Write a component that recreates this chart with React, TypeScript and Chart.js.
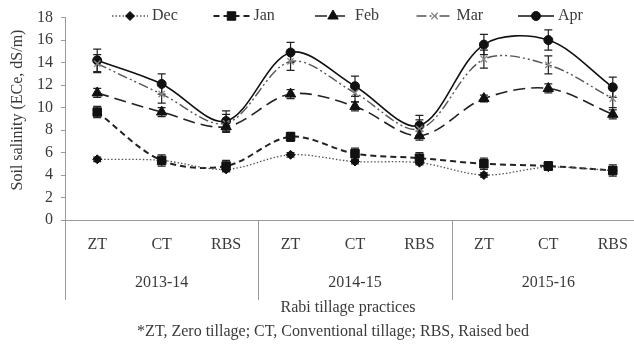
import React, { useEffect, useRef } from "react";
import { Chart, registerables } from "chart.js";
Chart.register(...registerables);

const categories = ["ZT", "CT", "RBS", "ZT", "CT", "RBS", "ZT", "CT", "RBS"];
const years = ["2013-14", "2014-15", "2015-16"];
const seriesNames = ["Dec", "Jan", "Feb", "Mar", "Apr"];

const dec = [5.4, 5.3, 4.5, 5.8, 5.2, 5.1, 4.0, 4.7, 4.4];
const jan = [9.6, 5.3, 4.8, 7.4, 5.9, 5.5, 5.0, 4.8, 4.4];
const feb = [11.3, 9.6, 8.3, 11.2, 10.1, 7.5, 10.8, 11.7, 9.4];
const mar = [13.9, 11.2, 8.6, 14.1, 11.3, 8.1, 14.3, 13.8, 10.8];
const apr = [14.2, 12.1, 8.8, 14.9, 11.9, 8.4, 15.6, 16.0, 11.8];

const decErr = [0.2, 0.2, 0.2, 0.2, 0.2, 0.2, 0.2, 0.2, 0.3];
const janErr = [0.5, 0.5, 0.5, 0.4, 0.5, 0.5, 0.5, 0.4, 0.5];
const febErr = [0.4, 0.4, 0.4, 0.4, 0.4, 0.4, 0.3, 0.4, 0.4];
const marErr = [0.8, 0.8, 0.8, 0.8, 0.8, 0.8, 0.8, 0.8, 0.8];
const aprErr = [1.0, 0.9, 0.9, 0.9, 0.9, 0.9, 0.9, 0.9, 0.9];

const yTitle = "Soil salinity (ECe, dS/m)";
const xTitle = "Rabi tillage practices";
const footnote = "*ZT, Zero tillage; CT, Conventional tillage; RBS, Raised bed";

const FONT = "'Liberation Serif', 'Times New Roman', serif";
const FSIZE = 16;
const TEXT = "#3a3a3a";
const AXIS = "#9a9a9a";

type Style = {
  color: string;
  width: number;
  dash: number[];
  point: string;
  radius: number;
  pointColor: string;
  pointBorder: number;
};

const styles: Style[] = [
  { color: "#555", width: 1.3, dash: [1.5, 2], point: "rectRot", radius: 4.5, pointColor: "#111", pointBorder: 1 },
  { color: "#222", width: 2, dash: [6, 4], point: "rect", radius: 6, pointColor: "#111", pointBorder: 1 },
  { color: "#222", width: 1.6, dash: [12, 6], point: "triangle", radius: 6, pointColor: "#111", pointBorder: 1 },
  { color: "#555", width: 1.4, dash: [10, 3, 2, 3, 2, 3], point: "crossRot", radius: 4.5, pointColor: "#888", pointBorder: 1.3 },
  { color: "#111", width: 1.6, dash: [], point: "circle", radius: 4.5, pointColor: "#111", pointBorder: 1 },
];

const values = [dec, jan, feb, mar, apr];
const errors = [decErr, janErr, febErr, marErr, aprErr];

function drawMarker(ctx: CanvasRenderingContext2D, s: Style, x: number, y: number) {
  const r = s.radius;
  ctx.save();
  ctx.fillStyle = s.pointColor;
  ctx.strokeStyle = s.pointColor;
  ctx.lineWidth = s.pointBorder;
  ctx.setLineDash([]);
  ctx.beginPath();
  if (s.point === "circle") {
    ctx.arc(x, y, r, 0, Math.PI * 2);
    ctx.fill();
    ctx.stroke();
  } else if (s.point === "rect") {
    const h = Math.SQRT1_2 * r;
    ctx.rect(x - h, y - h, 2 * h, 2 * h);
    ctx.fill();
    ctx.stroke();
  } else if (s.point === "rectRot") {
    ctx.moveTo(x - r, y);
    ctx.lineTo(x, y + r);
    ctx.lineTo(x + r, y);
    ctx.lineTo(x, y - r);
    ctx.closePath();
    ctx.fill();
    ctx.stroke();
  } else if (s.point === "triangle") {
    ctx.moveTo(x, y - r);
    ctx.lineTo(x + r * Math.sin(Math.PI / 3), y + r / 2);
    ctx.lineTo(x - r * Math.sin(Math.PI / 3), y + r / 2);
    ctx.closePath();
    ctx.fill();
    ctx.stroke();
  } else if (s.point === "crossRot") {
    const h = Math.SQRT1_2 * r;
    ctx.moveTo(x - h, y - h);
    ctx.lineTo(x + h, y + h);
    ctx.moveTo(x + h, y - h);
    ctx.lineTo(x - h, y + h);
    ctx.stroke();
  }
  ctx.restore();
}

export default function App() {
  const ref = useRef<HTMLCanvasElement>(null);

  useEffect(() => {
    const canvas = ref.current!;

    const errorBars = {
      id: "errorBars",
      beforeDatasetsDraw(chart: any) {
        const ctx = chart.ctx;
        const y = chart.scales.y;
        ctx.save();
        ctx.strokeStyle = "#222";
        ctx.lineWidth = 1.2;
        chart.data.datasets.forEach((ds: any, i: number) => {
          const meta = chart.getDatasetMeta(i);
          meta.data.forEach((pt: any, j: number) => {
            const v = ds.data[j];
            const e = errors[i][j];
            const x = pt.x;
            const y1 = y.getPixelForValue(v + e);
            const y2 = y.getPixelForValue(v - e);
            ctx.beginPath();
            ctx.moveTo(x, y1);
            ctx.lineTo(x, y2);
            ctx.moveTo(x - 4, y1);
            ctx.lineTo(x + 4, y1);
            ctx.moveTo(x - 4, y2);
            ctx.lineTo(x + 4, y2);
            ctx.stroke();
          });
        });
        ctx.restore();
      },
    };

    const decorations = {
      id: "decorations",
      afterDraw(chart: any) {
        const ctx = chart.ctx;
        const area = chart.chartArea;
        const xs = chart.scales.x;
        ctx.save();
        ctx.strokeStyle = AXIS;
        ctx.lineWidth = 1;
        const bounds = [area.left];
        for (let g = 1; g < years.length; g++) {
          bounds.push((xs.getPixelForValue(g * 3 - 1) + xs.getPixelForValue(g * 3)) / 2);
        }
        bounds.push(area.right);
        bounds.forEach((bx) => {
          const px = Math.round(bx) + 0.5;
          ctx.beginPath();
          ctx.moveTo(px, area.bottom);
          ctx.lineTo(px, area.bottom + 80);
          ctx.stroke();
        });
        ctx.fillStyle = TEXT;
        ctx.font = `${FSIZE}px ${FONT}`;
        ctx.textAlign = "center";
        ctx.textBaseline = "middle";
        years.forEach((yr, g) => {
          ctx.fillText(yr, xs.getPixelForValue(g * 3 + 1), area.bottom + 63);
        });
        ctx.fillText(xTitle, 348, area.bottom + 88);
        ctx.fillText(footnote, 333, area.bottom + 112);
        ctx.save();
        ctx.translate(18, 110);
        ctx.rotate(-Math.PI / 2);
        ctx.fillText(yTitle, 0, 0);
        ctx.restore();

        const legendY = 16;
        const startX = 112;
        const step = 101.5;
        const sampleLen = 36;
        seriesNames.forEach((name, i) => {
          const s = styles[i];
          const x0 = startX + i * step;
          ctx.save();
          ctx.strokeStyle = s.color;
          ctx.lineWidth = s.width;
          ctx.setLineDash(s.dash);
          ctx.beginPath();
          ctx.moveTo(x0, legendY);
          ctx.lineTo(x0 + sampleLen, legendY);
          ctx.stroke();
          ctx.restore();
          drawMarker(ctx, s, x0 + sampleLen / 2, legendY);
          ctx.fillStyle = TEXT;
          ctx.font = `${FSIZE}px ${FONT}`;
          ctx.textAlign = "left";
          ctx.textBaseline = "middle";
          ctx.fillText(name, x0 + sampleLen + 4, legendY);
        });
        ctx.restore();
      },
    };

    const font = { family: FONT, size: FSIZE };

    const chart = new Chart(canvas, {
      type: "line",
      data: {
        labels: categories,
        datasets: seriesNames.map((name, i) => ({
          label: name,
          data: values[i],
          borderColor: styles[i].color,
          borderWidth: styles[i].width,
          borderDash: styles[i].dash,
          pointStyle: styles[i].point as any,
          pointRadius: styles[i].radius,
          pointBackgroundColor: styles[i].pointColor,
          pointBorderColor: styles[i].pointColor,
          pointBorderWidth: styles[i].pointBorder,
          tension: 0.33,
          fill: false,
        })),
      },
      options: {
        responsive: false,
        animation: false,
        devicePixelRatio: 1,
        layout: { padding: { top: 13, right: 2, left: 0, bottom: 0 } },
        plugins: { legend: { display: false }, tooltip: { enabled: false } },
        scales: {
          x: {
            type: "category",
            offset: true,
            grid: { drawOnChartArea: false, drawTicks: false },
            border: { display: true, color: AXIS, width: 1 },
            ticks: { font, color: TEXT, padding: 15, maxRotation: 0, autoSkip: false },
            afterFit: (s: any) => {
              s.height = 124;
            },
          },
          y: {
            min: 0,
            max: 18,
            ticks: { stepSize: 2, font, color: TEXT, padding: 8 },
            grid: { drawOnChartArea: false, drawTicks: true, tickLength: 4, color: AXIS },
            border: { display: true, color: AXIS, width: 1 },
            afterFit: (s: any) => {
              s.width = 65;
            },
          },
        },
      } as any,
      plugins: [errorBars, decorations],
    });

    return () => chart.destroy();
  }, []);

  return (
    <div
      style={{
        position: "fixed",
        left: 0,
        top: 0,
        width: 634,
        height: 344,
        overflow: "hidden",
        background: "#fff",
      }}
    >
      <canvas ref={ref} width={652} height={344} style={{ display: "block" }} />
    </div>
  );
}
